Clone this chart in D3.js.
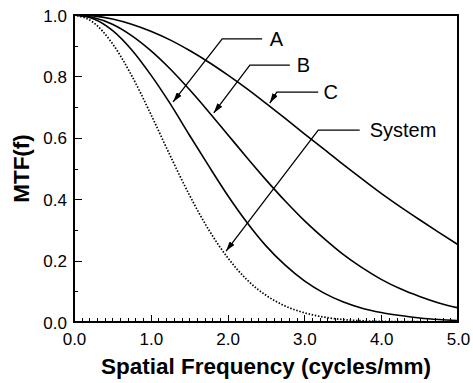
<!DOCTYPE html>
<html>
<head>
<meta charset="utf-8">
<script src="https://cdn.jsdelivr.net/npm/d3@7"></script>
<style>
  body { margin: 0; background: #fff; }
  svg { display: block; }
  text { font-family: "Liberation Sans", Arial, sans-serif; }
</style>
</head>
<body>
<script>
'use strict';

// frequencies (cycles/mm)
const freq = [0, 0.25, 0.5, 0.75, 1.0, 1.25, 1.5, 1.75, 2.0, 2.25, 2.5,
              2.75, 3.0, 3.25, 3.5, 3.75, 4.0, 4.25, 4.5, 4.75, 5.0];

// MTF values for each curve
const mtfA = [1, 0.988, 0.950, 0.887, 0.805, 0.712, 0.610, 0.510, 0.413, 0.325, 0.248,
              0.185, 0.134, 0.095, 0.066, 0.045, 0.031, 0.021, 0.013, 0.008, 0.005];
const mtfB = [1, 0.992, 0.970, 0.933, 0.884, 0.825, 0.758, 0.686, 0.611, 0.536, 0.463,
              0.394, 0.330, 0.273, 0.221, 0.177, 0.139, 0.108, 0.083, 0.062, 0.046];
const mtfC = [1, 0.997, 0.987, 0.970, 0.947, 0.919, 0.885, 0.847, 0.805, 0.760, 0.712,
              0.663, 0.613, 0.564, 0.514, 0.466, 0.419, 0.375, 0.333, 0.292, 0.252];
const mtfSystem = [1, 0.976, 0.907, 0.803, 0.677, 0.543, 0.415, 0.302, 0.210, 0.138, 0.087,
              0.052, 0.030, 0.016, 0.008, 0.004, 0.002, 0.001, 0.001, 0, 0];

const xMajorTicks = [0, 1, 2, 3, 4, 5];
const yMajorTicks = [0, 0.2, 0.4, 0.6, 0.8, 1.0];

// callouts: arrow tip, elbow, end of the flat part (data coords), label x
const callouts = [
  { label: "A", tip: [1.29, 0.717], elbow: [1.93, 0.922], end: [2.45, 0.922], tx: 2.55 },
  { label: "B", tip: [1.82, 0.681], elbow: [2.29, 0.837], end: [2.81, 0.837], tx: 2.90 },
  { label: "C", tip: [2.55, 0.713], elbow: [2.64, 0.749], end: [3.18, 0.749], tx: 3.25 },
  { label: "System", tip: [1.98, 0.231], elbow: [3.18, 0.625], end: [3.72, 0.625], tx: 3.85 }
];

const width = 473, height = 383;
const margin = { top: 15, right: 15, bottom: 61, left: 74 };
const plotW = width - margin.left - margin.right;
const plotH = height - margin.top - margin.bottom;

const svg = d3.select('body').append('svg')
  .attr('width', width)
  .attr('height', height);

svg.append('defs').append('marker')
  .attr('id', 'head')
  .attr('markerUnits', 'userSpaceOnUse')
  .attr('viewBox', '0 0 10 6')
  .attr('refX', 10).attr('refY', 3)
  .attr('markerWidth', 10).attr('markerHeight', 6)
  .attr('orient', 'auto')
  .append('path')
  .attr('d', 'M0,0 L10,3 L0,6 Z')
  .attr('fill', '#000');

const g = svg.append('g')
  .attr('transform', 'translate(' + margin.left + ',' + margin.top + ')');

const x = d3.scaleLinear().domain([0, 5]).range([0, plotW]);
const y = d3.scaleLinear().domain([0, 1]).range([plotH, 0]);

// minor ticks
g.append('g')
  .attr('transform', 'translate(0,' + plotH + ')')
  .call(d3.axisBottom(x).tickValues(d3.range(0, 51).map((i) => i / 10))
    .tickSize(-4).tickFormat(''))
  .call((a) => a.select('.domain').remove());
g.append('g')
  .call(d3.axisLeft(y).tickValues(d3.range(0, 11).map((i) => i / 10))
    .tickSize(-4).tickFormat(''))
  .call((a) => a.select('.domain').remove());

// major ticks + labels
const xAxis = g.append('g')
  .attr('transform', 'translate(0,' + plotH + ')')
  .call(d3.axisBottom(x).tickValues(xMajorTicks).tickSizeInner(-7).tickSizeOuter(0)
    .tickPadding(0).tickFormat(d3.format('.1f')));
xAxis.select('.domain').remove();
xAxis.selectAll('text')
  .attr('y', 23).attr('dy', null)
  .style('font-size', '17px').attr('fill', '#000');

const yAxis = g.append('g')
  .call(d3.axisLeft(y).tickValues(yMajorTicks).tickSizeInner(-8).tickSizeOuter(0)
    .tickFormat(d3.format('.1f')));
yAxis.select('.domain').remove();
yAxis.selectAll('text')
  .attr('x', -7).attr('dy', '0.36em')
  .style('font-size', '17px').attr('fill', '#000');
g.selectAll('.tick line')
  .attr('stroke', '#000')
  .attr('stroke-width', 1)
  .attr('shape-rendering', 'crispEdges');

// curves
const line = d3.line()
  .x((d) => x(d[0]))
  .y((d) => y(d[1]))
  .curve(d3.curveMonotoneX);

const series = [
  { values: mtfA, dash: null },
  { values: mtfB, dash: null },
  { values: mtfC, dash: null },
  { values: mtfSystem, dash: '1.5,1.7' }
];

series.forEach((s) => {
  g.append('path')
    .datum(freq.map((f, i) => [f, s.values[i]]))
    .attr('fill', 'none')
    .attr('stroke', '#000')
    .attr('stroke-width', s.dash ? 1.7 : 1.6)
    .attr('stroke-dasharray', s.dash)
    .attr('d', line);
});

// frame
g.append('rect')
  .attr('width', plotW).attr('height', plotH)
  .attr('fill', 'none').attr('stroke', '#000').attr('stroke-width', 2);

// callouts
callouts.forEach((c) => {
  g.append('polyline')
    .attr('points', [c.end, c.elbow, c.tip].map((p) => x(p[0]) + ',' + y(p[1])).join(' '))
    .attr('fill', 'none')
    .attr('stroke', '#000')
    .attr('stroke-width', 1.3)
    .attr('marker-end', 'url(#head)');
  g.append('text')
    .attr('x', x(c.tx))
    .attr('y', y(c.end[1]) + 7)
    .style('font-size', '20px')
    .text(c.label);
});

// axis titles
svg.append('text')
  .attr('x', margin.left + plotW / 2)
  .attr('y', 374)
  .attr('text-anchor', 'middle')
  .style('font-size', '22.5px').style('font-weight', 'bold')
  .text('Spatial Frequency (cycles/mm)');

svg.append('text')
  .attr('transform', 'translate(29,' + (margin.top + plotH / 2) + ')rotate(-90)')
  .attr('text-anchor', 'middle')
  .style('font-size', '22.5px').style('font-weight', 'bold')
  .text('MTF(f)');
</script>
</body>
</html>
